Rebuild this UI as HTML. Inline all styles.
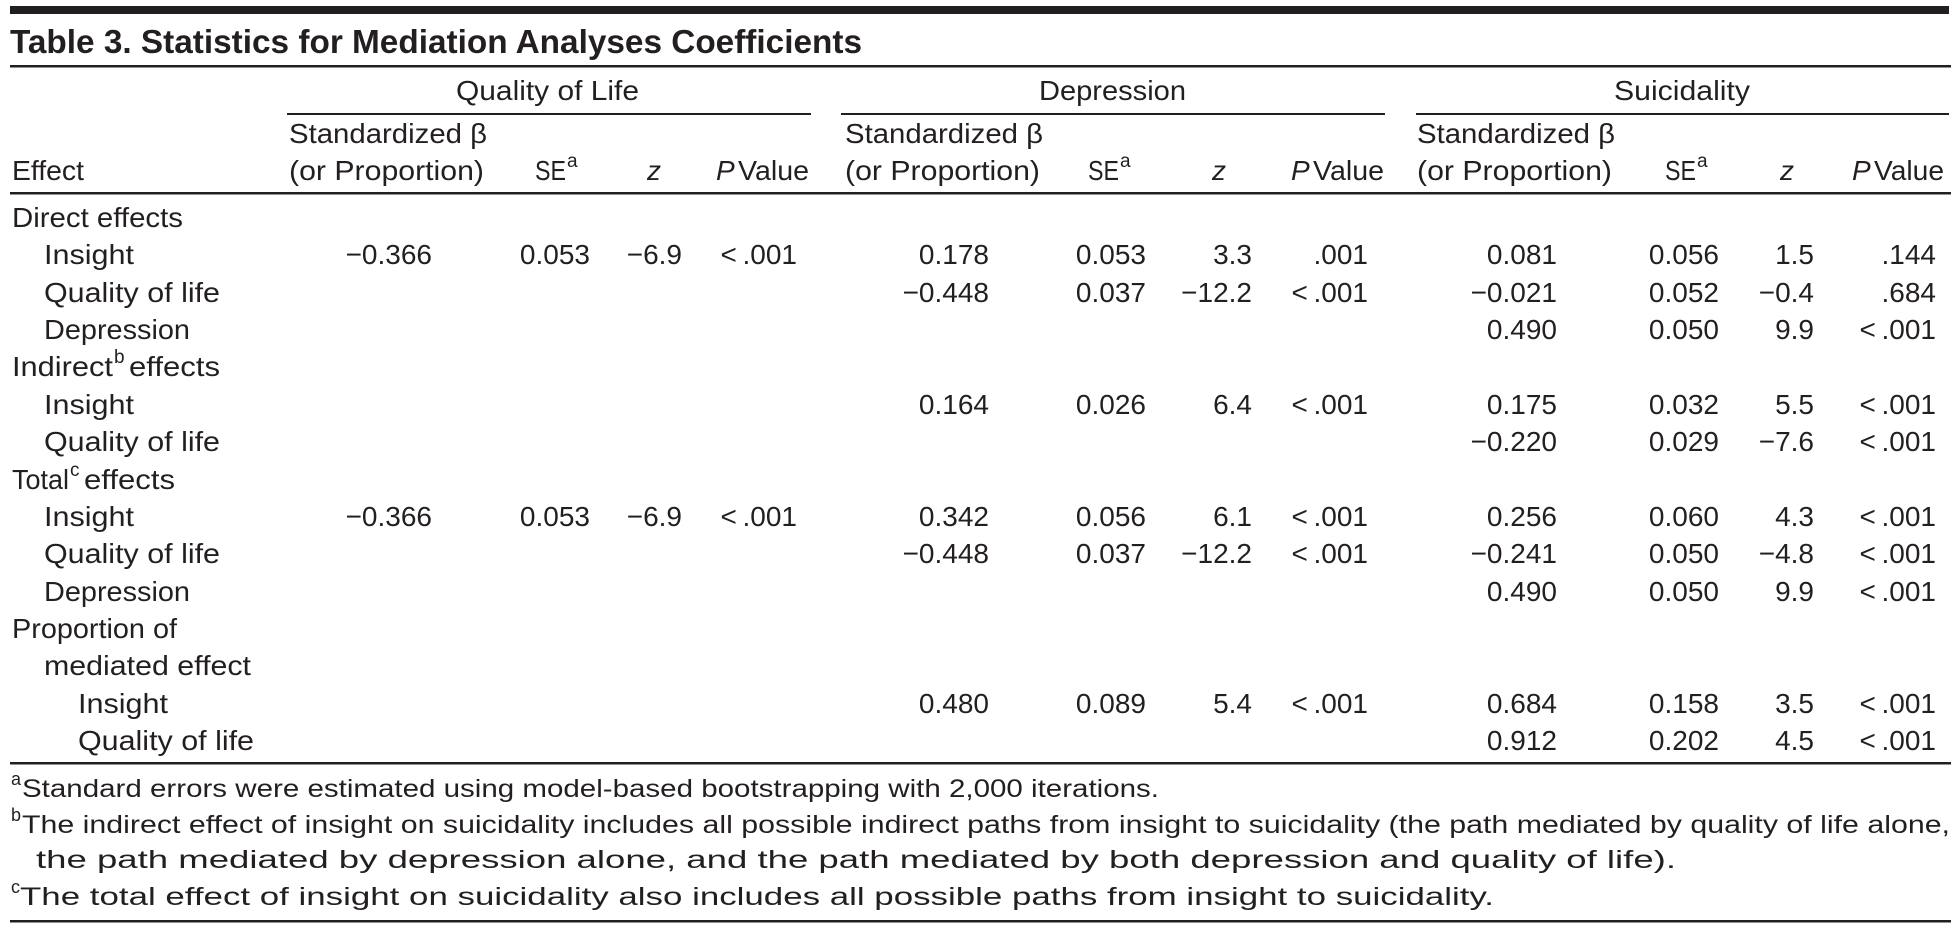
<!DOCTYPE html>
<html><head><meta charset="utf-8"><style>
html,body{margin:0;padding:0;background:#fff;}
svg{display:block;}
text{font-family:"Liberation Sans",sans-serif;fill:#231f20;}
</style></head><body>
<svg width="1959" height="936" viewBox="0 0 1959 936" xmlns="http://www.w3.org/2000/svg">
<rect x="10" y="6" width="1939" height="8" fill="#231f20"/>
<text x="10" y="53" font-size="33" font-weight="bold" textLength="852" lengthAdjust="spacingAndGlyphs">Table 3. Statistics for Mediation Analyses Coefficients</text>
<rect x="10" y="65" width="1941" height="2.5" fill="#231f20"/>
<g font-size="28">
<text x="456" y="100" textLength="183" lengthAdjust="spacingAndGlyphs">Quality of Life</text>
<text x="1039" y="100" textLength="147" lengthAdjust="spacingAndGlyphs">Depression</text>
<text x="1614" y="100" textLength="136" lengthAdjust="spacingAndGlyphs">Suicidality</text>
</g>
<rect x="287" y="113" width="524" height="2" fill="#231f20"/>
<rect x="841" y="113" width="544" height="2" fill="#231f20"/>
<rect x="1416" y="113" width="533" height="2" fill="#231f20"/>
<g font-size="28">
<text x="12" y="180" textLength="72" lengthAdjust="spacingAndGlyphs">Effect</text>
<text x="289" y="143" textLength="198" lengthAdjust="spacingAndGlyphs">Standardized β</text>
<text x="289" y="180" textLength="195" lengthAdjust="spacingAndGlyphs">(or Proportion)</text>
<text x="535" y="180" textLength="31" lengthAdjust="spacingAndGlyphs">SE</text><text x="567" y="167" font-size="19">a</text>
<text x="647" y="180" font-style="italic">z</text>
<text x="716" y="180" font-style="italic">P</text><text x="738" y="180" textLength="71" lengthAdjust="spacingAndGlyphs">Value</text>
<text x="845" y="143" textLength="198" lengthAdjust="spacingAndGlyphs">Standardized β</text>
<text x="845" y="180" textLength="195" lengthAdjust="spacingAndGlyphs">(or Proportion)</text>
<text x="1088" y="180" textLength="31" lengthAdjust="spacingAndGlyphs">SE</text><text x="1120" y="167" font-size="19">a</text>
<text x="1212" y="180" font-style="italic">z</text>
<text x="1291" y="180" font-style="italic">P</text><text x="1313" y="180" textLength="71" lengthAdjust="spacingAndGlyphs">Value</text>
<text x="1417" y="143" textLength="198" lengthAdjust="spacingAndGlyphs">Standardized β</text>
<text x="1417" y="180" textLength="195" lengthAdjust="spacingAndGlyphs">(or Proportion)</text>
<text x="1665" y="180" textLength="31" lengthAdjust="spacingAndGlyphs">SE</text><text x="1697" y="167" font-size="19">a</text>
<text x="1780" y="180" font-style="italic">z</text>
<text x="1852" y="180" font-style="italic">P</text><text x="1874" y="180" textLength="70" lengthAdjust="spacingAndGlyphs">Value</text>
</g>
<rect x="10" y="192" width="1941" height="2.5" fill="#231f20"/>
<g font-size="28">
<text x="12" y="227" textLength="171" lengthAdjust="spacingAndGlyphs">Direct effects</text>
<text x="44" y="264" textLength="90" lengthAdjust="spacingAndGlyphs">Insight</text>
<text x="44" y="302" textLength="176" lengthAdjust="spacingAndGlyphs">Quality of life</text>
<text x="44" y="339" textLength="146" lengthAdjust="spacingAndGlyphs">Depression</text>
<text x="12" y="376" textLength="101" lengthAdjust="spacingAndGlyphs">Indirect</text><text x="114" y="363" font-size="19">b</text><text x="129" y="376" textLength="91" lengthAdjust="spacingAndGlyphs">effects</text>
<text x="44" y="414" textLength="90" lengthAdjust="spacingAndGlyphs">Insight</text>
<text x="44" y="451" textLength="176" lengthAdjust="spacingAndGlyphs">Quality of life</text>
<text x="12" y="489" textLength="57" lengthAdjust="spacingAndGlyphs">Total</text><text x="70" y="476" font-size="19">c</text><text x="84" y="489" textLength="91" lengthAdjust="spacingAndGlyphs">effects</text>
<text x="44" y="526" textLength="90" lengthAdjust="spacingAndGlyphs">Insight</text>
<text x="44" y="563" textLength="176" lengthAdjust="spacingAndGlyphs">Quality of life</text>
<text x="44" y="601" textLength="146" lengthAdjust="spacingAndGlyphs">Depression</text>
<text x="12" y="638" textLength="165" lengthAdjust="spacingAndGlyphs">Proportion of</text>
<text x="44" y="675" textLength="207" lengthAdjust="spacingAndGlyphs">mediated effect</text>
<text x="78" y="713" textLength="90" lengthAdjust="spacingAndGlyphs">Insight</text>
<text x="78" y="750" textLength="176" lengthAdjust="spacingAndGlyphs">Quality of life</text>
</g>
<g font-size="28" text-anchor="end">
<text x="432" y="264">−0.366</text><text x="590" y="264">0.053</text><text x="682" y="264">−6.9</text><text x="797" y="264">&lt;&#8201;.001</text>
<text x="989" y="264">0.178</text><text x="1146" y="264">0.053</text><text x="1252" y="264">3.3</text><text x="1368" y="264">.001</text>
<text x="1557" y="264">0.081</text><text x="1719" y="264">0.056</text><text x="1814" y="264">1.5</text><text x="1936" y="264">.144</text>
<text x="989" y="302">−0.448</text><text x="1146" y="302">0.037</text><text x="1252" y="302">−12.2</text><text x="1368" y="302">&lt;&#8201;.001</text>
<text x="1557" y="302">−0.021</text><text x="1719" y="302">0.052</text><text x="1814" y="302">−0.4</text><text x="1936" y="302">.684</text>
<text x="1557" y="339">0.490</text><text x="1719" y="339">0.050</text><text x="1814" y="339">9.9</text><text x="1936" y="339">&lt;&#8201;.001</text>
<text x="989" y="414">0.164</text><text x="1146" y="414">0.026</text><text x="1252" y="414">6.4</text><text x="1368" y="414">&lt;&#8201;.001</text>
<text x="1557" y="414">0.175</text><text x="1719" y="414">0.032</text><text x="1814" y="414">5.5</text><text x="1936" y="414">&lt;&#8201;.001</text>
<text x="1557" y="451">−0.220</text><text x="1719" y="451">0.029</text><text x="1814" y="451">−7.6</text><text x="1936" y="451">&lt;&#8201;.001</text>
<text x="432" y="526">−0.366</text><text x="590" y="526">0.053</text><text x="682" y="526">−6.9</text><text x="797" y="526">&lt;&#8201;.001</text>
<text x="989" y="526">0.342</text><text x="1146" y="526">0.056</text><text x="1252" y="526">6.1</text><text x="1368" y="526">&lt;&#8201;.001</text>
<text x="1557" y="526">0.256</text><text x="1719" y="526">0.060</text><text x="1814" y="526">4.3</text><text x="1936" y="526">&lt;&#8201;.001</text>
<text x="989" y="563">−0.448</text><text x="1146" y="563">0.037</text><text x="1252" y="563">−12.2</text><text x="1368" y="563">&lt;&#8201;.001</text>
<text x="1557" y="563">−0.241</text><text x="1719" y="563">0.050</text><text x="1814" y="563">−4.8</text><text x="1936" y="563">&lt;&#8201;.001</text>
<text x="1557" y="601">0.490</text><text x="1719" y="601">0.050</text><text x="1814" y="601">9.9</text><text x="1936" y="601">&lt;&#8201;.001</text>
<text x="989" y="713">0.480</text><text x="1146" y="713">0.089</text><text x="1252" y="713">5.4</text><text x="1368" y="713">&lt;&#8201;.001</text>
<text x="1557" y="713">0.684</text><text x="1719" y="713">0.158</text><text x="1814" y="713">3.5</text><text x="1936" y="713">&lt;&#8201;.001</text>
<text x="1557" y="750">0.912</text><text x="1719" y="750">0.202</text><text x="1814" y="750">4.5</text><text x="1936" y="750">&lt;&#8201;.001</text>
</g>
<rect x="10" y="762" width="1941" height="2.5" fill="#231f20"/>
<g font-size="25">
<text x="11" y="785" font-size="18">a</text>
<text x="22" y="797" textLength="1137" lengthAdjust="spacingAndGlyphs">Standard errors were estimated using model-based bootstrapping with 2,000 iterations.</text>
<text x="11" y="821" font-size="18">b</text>
<text x="22" y="833" textLength="1928" lengthAdjust="spacingAndGlyphs">The indirect effect of insight on suicidality includes all possible indirect paths from insight to suicidality (the path mediated by quality of life alone,</text>
<text x="36" y="868" textLength="1640" lengthAdjust="spacingAndGlyphs">the path mediated by depression alone, and the path mediated by both depression and quality of life).</text>
<text x="11" y="893" font-size="18">c</text>
<text x="20" y="905" textLength="1474" lengthAdjust="spacingAndGlyphs">The total effect of insight on suicidality also includes all possible paths from insight to suicidality.</text>
</g>
<rect x="10" y="920" width="1941" height="2.5" fill="#231f20"/>
</svg>
</body></html>
